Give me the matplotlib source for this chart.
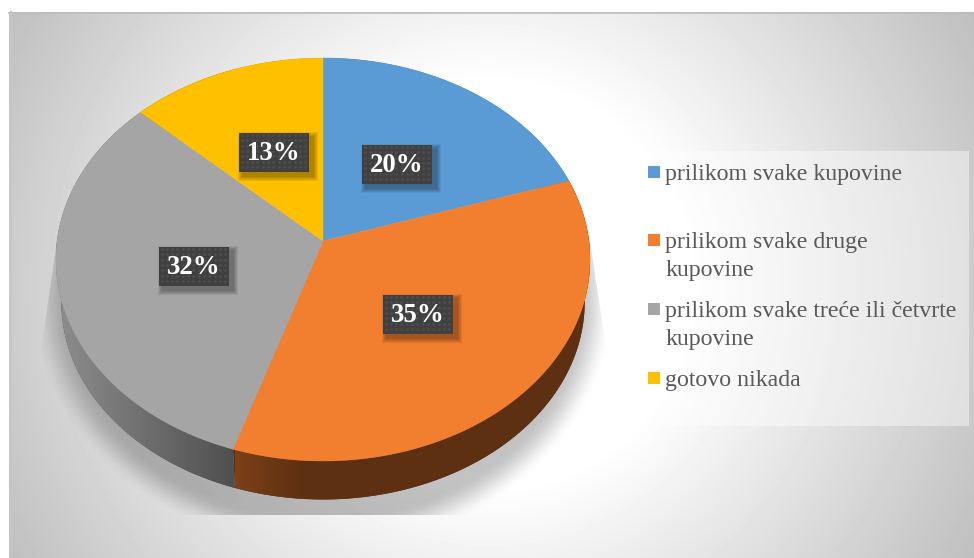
import numpy as np
import matplotlib
matplotlib.use("Agg")
import matplotlib.pyplot as plt
from matplotlib.colors import LinearSegmentedColormap
from matplotlib.patches import Polygon, Rectangle

categories = ["prilikom svake kupovine", "prilikom svake druge\nkupovine",
              "prilikom svake treće ili četvrte\nkupovine", "gotovo nikada"]
shares = [20, 35, 32, 13]
labels = ["20%", "35%", "32%", "13%"]
colors = ["#5b9bd5", "#f27e2f", "#a5a5a5", "#ffc000"]
wall_left = ["#2f5576", "#7c4118", "#8e8e8e", "#8a6b00"]
wall_right = ["#2f5576", "#5e3012", "#4e4e4e", "#8a6b00"]

# pixel layout of the picture
W, H = 974, 558
CX, APEX_Y = 323, 241
RX, TILT, RY_K = 265.9, -0.0918, 177.67
WALL_Y, WALL_K, TOP_CY = 302, 0.98, 259.5
label_boxes = [(397, 164), (418, 314), (194, 266), (274, 152)]
legend_y = [172, 240, 309, 378]


def project(t):
    # perspective view of the unit circle, t clockwise from 12 o'clock
    u, v = np.sin(t), -np.cos(t)
    w = 1 + TILT * v
    return CX + RX * u / w, (RY_K * v + APEX_Y) / w


def lower(x, y):
    return CX + (x - CX) * WALL_K, WALL_Y + (y - TOP_CY) * WALL_K


fig = plt.figure(figsize=(W / 100, H / 100), dpi=100)
ax = fig.add_axes([0, 0, 1, 1])
ax.axis("off")

# radial background
yy, xx = np.mgrid[12:H, 9:W] + 0.5
r = np.hypot(xx - 490, yy - 285)
bg = np.clip(255 - (r - 200) * 0.18, 191, 255) / 255
ax.imshow(bg, cmap="gray", vmin=0, vmax=1, extent=(9, W, H, 12), aspect="auto", zorder=0)
ax.plot([9, W], [12.5, 12.5], color="#bcbcbc", lw=1.2, zorder=1)
ax.plot([10.5, 10.5], [12, H], color="#c6c6c6", lw=1.5, zorder=1)

# soft shadow under the pie
d = np.hypot((xx - CX) / 292, (yy - 300) / 250)
a = np.clip((1 - d) / 0.13, 0, 1)
rgba = np.zeros(d.shape + (4,))
rgba[..., 3] = 0.24 * a * a * (3 - 2 * a)
sh = ax.imshow(rgba, extent=(9, W, H, 12), aspect="auto", zorder=2)
sh.set_clip_path(Polygon([(57, 240), (39, 365), (39, 515), (607, 515), (607, 355), (590, 240)],
                         transform=ax.transData))

# side wall and top of every slice
edges = np.cumsum([0] + shares) / 100 * 2 * np.pi
for i, share in enumerate(shares):
    t = np.linspace(edges[i], edges[i + 1], 200)
    x, y = project(t)
    xl, yl = lower(x, y)
    pts = np.column_stack([np.r_[x, xl[::-1]], np.r_[y, yl[::-1]]])
    wall = Polygon(pts, transform=ax.transData)
    ax.fill(pts[:, 0], pts[:, 1], color=wall_right[i], lw=0, zorder=2.5)
    cm = LinearSegmentedColormap.from_list("w", [wall_left[i], wall_right[i]])
    if i == 1:
        grad = np.clip((np.linspace(235, 590, 256) - 235) / 65, 0, 1)[None, :]
        im = ax.imshow(grad, cmap=cm, vmin=0, vmax=1, extent=(235, 590, H, 0), aspect="auto", zorder=3)
    else:
        grad = np.linspace(0, 1, 256)[None, :]
        im = ax.imshow(grad, cmap=cm, vmin=0, vmax=1, extent=(55, 238, H, 0), aspect="auto", zorder=3)
    im.set_clip_path(wall)
for i, share in enumerate(shares):
    t = np.linspace(edges[i], edges[i + 1], 200)
    x, y = project(t)
    ax.fill(np.r_[CX, x], np.r_[APEX_Y, y], color=colors[i], lw=0.3, zorder=4)

# data labels in dark dotted boxes
bw, bh = 70, 39
for (bx, by), text in zip(label_boxes, labels):
    for g in range(1, 6):
        ax.add_patch(Rectangle((bx - bw / 2 + 4 - g, by - bh / 2 + 4 - g), bw + 2 * g, bh + 2 * g,
                               fc="black", ec="none", alpha=0.07, zorder=5))
    ax.add_patch(Rectangle((bx - bw / 2, by - bh / 2), bw, bh, fc="#404040", ec="none", zorder=6))
    gx, gy = np.meshgrid(np.arange(bx - bw / 2 + 2.5, bx + bw / 2, 5.3),
                         np.arange(by - bh / 2 + 2.5, by + bh / 2, 5.3))
    ax.scatter(gx.ravel(), gy.ravel(), s=4, color="#4e4e4e", lw=0, zorder=7)
    ax.text(bx, by + 1, text, color="white", fontsize=19.4, fontweight="bold",
            family="Liberation Serif", ha="center", va="center", zorder=8)

# legend panel
ax.add_patch(Rectangle((635, 151), 334, 275, fc="white", ec="none", alpha=0.42, zorder=5))
for name, c, ly in zip(categories, colors, legend_y):
    ax.add_patch(Rectangle((648, ly - 6), 12, 12, fc=c, ec="none", zorder=6))
    for k, line in enumerate(name.split("\n")):
        ax.text(665, ly + 8 + 28 * k, line, color="#595959", fontsize=17.2, family="Liberation Serif",
                ha="left", va="baseline", zorder=6)

ax.set_xlim(0, W)
ax.set_ylim(H, 0)
fig.savefig("out.png", dpi=100)
